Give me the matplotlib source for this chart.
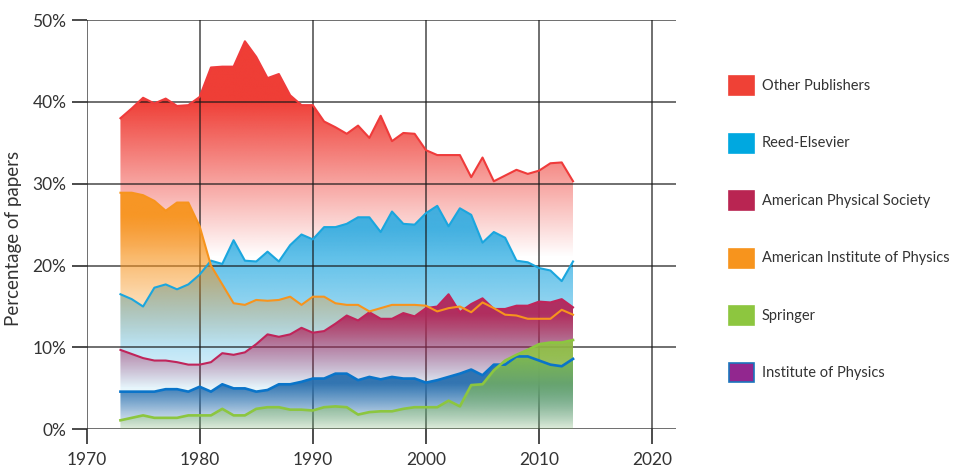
import matplotlib
matplotlib.use("Agg")
import matplotlib.pyplot as plt
from matplotlib.colors import to_rgb
from matplotlib.patches import Rectangle
import numpy as np

years = np.arange(1973, 2014)

other_publishers = [38.0, 39.2, 40.5, 39.8, 40.4, 39.5, 39.6, 40.6, 44.2, 44.3,
                    44.3, 47.4, 45.5, 42.9, 43.4, 40.8, 39.6, 39.6, 37.6, 36.9,
                    36.1, 37.1, 35.6, 38.3, 35.2, 36.2, 36.1, 34.1, 33.5, 33.5,
                    33.5, 30.8, 33.2, 30.3, 31.0, 31.7, 31.2, 31.6, 32.5, 32.6, 30.3]
reed_elsevier = [16.5, 15.9, 15.0, 17.3, 17.7, 17.1, 17.7, 18.9, 20.6, 20.2,
                 23.1, 20.6, 20.5, 21.7, 20.5, 22.5, 23.8, 23.2, 24.7, 24.7,
                 25.1, 25.9, 25.9, 24.1, 26.6, 25.1, 25.0, 26.4, 27.3, 24.8,
                 27.0, 26.2, 22.8, 24.1, 23.4, 20.6, 20.4, 19.7, 19.4, 18.1, 20.5]
aps = [9.7, 9.2, 8.7, 8.4, 8.4, 8.2, 7.9, 7.9, 8.2, 9.3,
       9.1, 9.4, 10.4, 11.6, 11.3, 11.6, 12.4, 11.8, 12.0, 12.9,
       13.9, 13.3, 14.3, 13.5, 13.5, 14.2, 13.8, 14.8, 15.0, 16.5,
       14.3, 15.3, 16.0, 14.7, 14.7, 15.1, 15.1, 15.6, 15.5, 15.9, 14.9]
aip = [28.9, 28.9, 28.6, 27.9, 26.7, 27.7, 27.7, 24.8, 20.0, 17.7,
       15.4, 15.2, 15.8, 15.7, 15.8, 16.2, 15.2, 16.2, 16.2, 15.4,
       15.2, 15.2, 14.4, 14.8, 15.2, 15.2, 15.2, 15.1, 14.4, 14.8,
       15.0, 14.3, 15.5, 14.8, 14.0, 13.9, 13.5, 13.5, 13.5, 14.6, 14.0]
springer = [1.1, 1.4, 1.7, 1.4, 1.4, 1.4, 1.7, 1.7, 1.7, 2.5,
            1.7, 1.7, 2.5, 2.7, 2.7, 2.4, 2.4, 2.3, 2.7, 2.8,
            2.7, 1.8, 2.1, 2.2, 2.2, 2.5, 2.7, 2.7, 2.7, 3.5,
            2.8, 5.4, 5.5, 7.2, 8.4, 9.1, 9.7, 10.4, 10.6, 10.6, 10.9]
iop = [4.6, 4.6, 4.6, 4.6, 4.9, 4.9, 4.6, 5.2, 4.6, 5.5,
       5.0, 5.0, 4.6, 4.8, 5.5, 5.5, 5.8, 6.2, 6.2, 6.8,
       6.8, 6.0, 6.4, 6.1, 6.4, 6.2, 6.2, 5.7, 6.0, 6.4,
       6.8, 7.3, 6.6, 7.9, 7.9, 8.9, 8.9, 8.4, 7.9, 7.7, 8.6]

labels = ["Other Publishers", "Reed-Elsevier", "American Physical Society",
          "American Institute of Physics", "Springer", "Institute of Physics"]

plt.rcParams["font.family"] = ["Lato", "DejaVu Sans"]
TEXT = "#333333"

fig = plt.figure(figsize=(9.59, 4.69), dpi=100)
ax = fig.add_axes([86.5 / 959, 1 - 429.3 / 469, (676 - 86.5) / 959, (429.3 - 20) / 469])


def gradient_area(values, color, y_full, y_zero, amax=1.0, amin=0.0, z=1):
    # area under the series, filled with a vertical fade clipped to its outline
    poly = ax.fill_between(years, 0, values, facecolor="none", edgecolor="none")
    path = poly.get_paths()[0]
    ys = np.linspace(0, 50, 600)
    alpha = np.clip((ys - y_zero) / (y_full - y_zero), 0, 1)
    alpha = amin + (amax - amin) * alpha
    img = np.zeros((len(ys), 2, 4))
    img[..., :3] = to_rgb(color)
    img[..., 3] = alpha[:, None]
    im = ax.imshow(img, extent=[years[0], years[-1], 0, 50], origin="lower",
                   aspect="auto", zorder=z, interpolation="bilinear")
    im.set_clip_path(path, ax.transData)


gradient_area(other_publishers, "#ef3e36", 40, 21, z=1)
gradient_area(reed_elsevier, "#29abe2", 24.5, 2, amax=0.88, z=2)
gradient_area(aip, "#f7941d", 26, 10, amax=0.95, z=3)
gradient_area(aps, "#b1265a", 14, 5, amax=0.95, z=4)
gradient_area(iop, "#2a6fae", 5.5, -0.5, amax=0.95, z=5)
gradient_area(springer, "#8dc63f", 9, -1.5, amax=0.85, amin=0.05, z=6)

lw = 1.5
ax.plot(years, other_publishers, color="#ef3b3b", lw=lw, zorder=11)
ax.plot(years, reed_elsevier, color="#1ba6de", lw=lw, zorder=12)
ax.plot(years, aps, color="#c0245a", lw=lw, zorder=13)
ax.plot(years, aip, color="#f7941d", lw=lw, zorder=14)
ax.plot(years, iop, color="#0a74c9", lw=lw + 0.4, zorder=15)
ax.plot(years, springer, color="#8cc63f", lw=lw + 0.4, zorder=16)

ax.set_xlim(1970, 2022.1)
ax.set_ylim(0, 50)
ax.set_xticks(range(1970, 2021, 10))
ax.set_yticks(range(0, 51, 10))
ax.set_yticklabels([f"{v}%" for v in range(0, 51, 10)])
ax.grid(True, color="#1a1a1a", lw=1.1, alpha=0.8, zorder=8)
ax.set_axisbelow(False)
for s in ax.spines.values():
    s.set_visible(False)
ax.tick_params(axis="both", length=10.5, width=1.1, color="#1a1a1a",
               labelsize=12.5, labelcolor=TEXT)
ax.tick_params(axis="x", pad=6)
ax.tick_params(axis="y", pad=4)

fig.text(14 / 959, 1 - 238 / 469, "Percentage of papers", rotation=90,
         ha="center", va="center", fontsize=13.5, color=TEXT)

legend_colors = ["#ef4136", "#00a8e0", "#b92552", "#f7941d", "#8dc63f", "#92278f"]
centers = [85.5, 143, 200.5, 258, 315.5, 372.5]
for lab, col, cy in zip(labels, legend_colors, centers):
    ec = "#1b75bc" if lab == "Institute of Physics" else col
    fig.patches.append(Rectangle((729 / 959, 1 - (cy + 9.5) / 469), 25 / 959, 19 / 469,
                                 transform=fig.transFigure, facecolor=col,
                                 edgecolor=ec, lw=1.2))
    fig.text(762 / 959, 1 - cy / 469, lab, ha="left", va="center",
             fontsize=10.5, color=TEXT)

fig.savefig("out.png", dpi=100)
